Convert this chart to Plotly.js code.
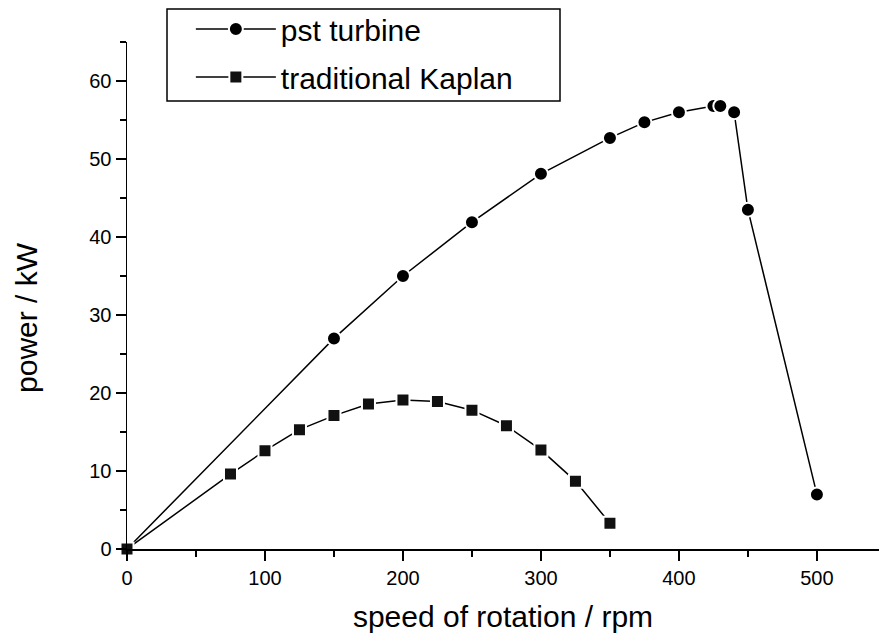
<!DOCTYPE html>
<html>
<head>
<meta charset="utf-8">
<script src="https://cdn.plot.ly/plotly-3.0.1.min.js"></script>
<style>html,body{margin:0;padding:0;background:#fff;}#chart{width:881px;height:644px;}</style>
</head>
<body>
<div id="chart"></div>
<script>
// pst turbine
const pstSpeed = [0, 150, 200, 250, 300, 350, 375, 400, 425, 430, 440, 450, 500];
const pstPower = [0, 27.0, 35.0, 41.9, 48.1, 52.7, 54.7, 56.0, 56.8, 56.8, 56.0, 43.5, 7.0];
// traditional Kaplan
const kapSpeed = [0, 75, 100, 125, 150, 175, 200, 225, 250, 275, 300, 325, 350];
const kapPower = [0, 9.6, 12.6, 15.3, 17.1, 18.6, 19.1, 18.9, 17.8, 15.8, 12.7, 8.7, 3.3];

const xTicks = [0, 100, 200, 300, 400, 500];
const yTicks = [0, 10, 20, 30, 40, 50, 60];

const font = "Arial, 'Liberation Sans', Helvetica, sans-serif";

const traces = [
  {
    x: pstSpeed, y: pstPower, name: 'pst turbine', mode: 'lines+markers',
    line: {color: '#000', width: 1.5},
    marker: {symbol: 'circle', size: 14, color: '#000', line: {color: '#fff', width: 2}},
    cliponaxis: false, legendgroup: 'a'
  },
  {
    x: kapSpeed, y: kapPower, name: 'traditional Kaplan', mode: 'lines+markers',
    line: {color: '#000', width: 1.5},
    marker: {symbol: 'square', size: 13, color: '#111', line: {color: '#fff', width: 2}},
    cliponaxis: false, legendgroup: 'b'
  }
];

const layout = {
  width: 881, height: 644,
  margin: {l: 127, r: 2, t: 42, b: 95},
  paper_bgcolor: '#fff', plot_bgcolor: '#fff',
  font: {family: font, color: '#000'},
  showlegend: true,
  legend: {
    x: 0.053, y: 1.077, xanchor: 'left', yanchor: 'top',
    bgcolor: 'rgba(0,0,0,0)', borderwidth: 0,
    font: {family: font, size: 30, color: '#000'},
    itemwidth: 80, indentation: 24, tracegroupgap: 6, traceorder: 'grouped'
  },
  shapes: [{
    type: 'rect', xref: 'paper', yref: 'paper',
    x0: 0.0532, x1: 0.5758, y0: 0.8836, y1: 1.065,
    line: {color: '#000', width: 1.5}, fillcolor: 'rgba(0,0,0,0)', layer: 'above'
  }],
  annotations: [{
    text: 'power / kW', xref: 'paper', yref: 'paper', x: -0.133, y: 0.4576,
    xanchor: 'center', yanchor: 'middle', textangle: -90, showarrow: false,
    font: {family: font, size: 30, color: '#000'}
  }],
  xaxis: {
    range: [0, 545], showgrid: false, zeroline: false,
    showline: true, linecolor: '#000', linewidth: 1.5,
    tickmode: 'array', tickvals: xTicks, ticktext: xTicks.map(String),
    ticks: 'outside', ticklen: 10, tickwidth: 1.5, tickcolor: '#000',
    minor: {tickmode: 'linear', dtick: 50, tick0: 0, ticks: 'outside', ticklen: 6, tickwidth: 1.5, tickcolor: '#000', showgrid: false},
    tickfont: {family: font, size: 20, color: '#000'},
    title: {text: 'speed of rotation / rpm', font: {family: font, size: 30, color: '#000'}, standoff: 18}
  },
  yaxis: {
    range: [0, 65], showgrid: false, zeroline: false,
    showline: true, linecolor: '#000', linewidth: 1.5,
    tickmode: 'array', tickvals: yTicks, ticktext: yTicks.map(String),
    ticks: 'outside', ticklen: 10, tickwidth: 1.5, tickcolor: '#000',
    minor: {tickmode: 'linear', dtick: 5, tick0: 0, ticks: 'outside', ticklen: 6, tickwidth: 1.5, tickcolor: '#000', showgrid: false},
    tickfont: {family: font, size: 20, color: '#000'}
  }
};

Plotly.newPlot('chart', traces, layout, {staticPlot: true, displayModeBar: false});
</script>
</body>
</html>
